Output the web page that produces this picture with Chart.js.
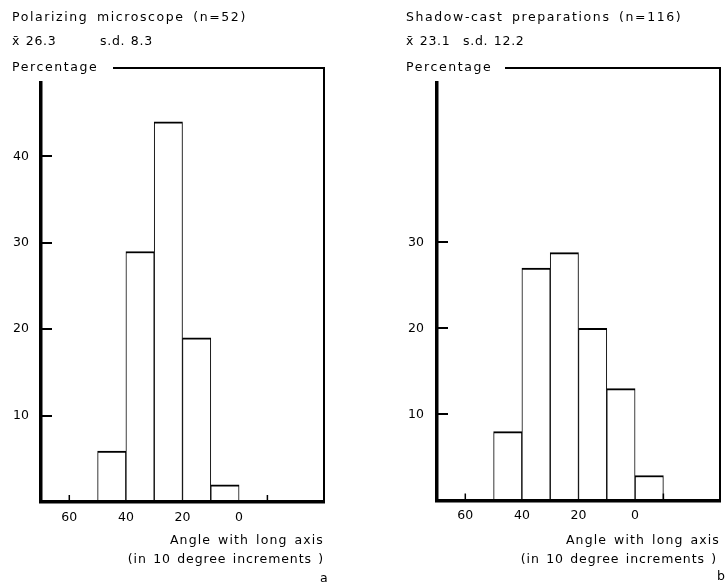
<!DOCTYPE html>
<html>
<head>
<meta charset="utf-8">
<script src="https://cdn.jsdelivr.net/npm/chart.js@4.4.1/dist/chart.umd.min.js"></script>
<style>
  html, body { margin:0; padding:0; background:#fff; }
  #wrap { position:relative; width:726px; height:584px; overflow:hidden; }
  canvas { position:absolute; top:0; }
  .t { position:absolute; font-family:'DejaVu Sans', sans-serif; font-size:12.5px; line-height:14px;
       letter-spacing:1.6px; word-spacing:3px; white-space:pre; color:#000; }
  .r { text-align:right; }
  .s { letter-spacing:0.7px; word-spacing:1px; }
  .ax1 { letter-spacing:1.1px; word-spacing:2px; }
  .ax2 { letter-spacing:0.9px; word-spacing:1.5px; }
</style>
</head>
<body>
<div id="wrap">
  <canvas id="ca" width="363" height="584" style="left:0"></canvas>
  <canvas id="cb" width="363" height="584" style="left:363px"></canvas>

  <div class="t" style="left:12px; top:10px">Polarizing microscope (n=52)</div>
  <div class="t s" style="left:12px; top:34px">x̄ 26.3</div>
  <div class="t s" style="left:100px; top:34px">s.d. 8.3</div>
  <div class="t" style="left:12px; top:60px">Percentage</div>
  <div class="t r ax1" style="right:402px; top:533px">Angle with long axis</div>
  <div class="t r ax2" style="right:402px; top:552px">(in 10 degree increments )</div>
  <div class="t" style="left:320px; top:571px">a</div>

  <div class="t" style="left:406px; top:10px">Shadow-cast preparations (n=116)</div>
  <div class="t s" style="left:406px; top:34px">x̄ 23.1</div>
  <div class="t s" style="left:463px; top:34px">s.d. 12.2</div>
  <div class="t" style="left:406px; top:60px">Percentage</div>
  <div class="t r ax1" style="right:6px; top:533px">Angle with long axis</div>
  <div class="t r ax2" style="right:9px; top:552px">(in 10 degree increments )</div>
  <div class="t" style="left:717px; top:569px">b</div>
</div>
<script>
// ---- data ----
const binCentersA = [45, 35, 25, 15, 5];
const percentA    = [5.9, 29, 44, 19, 2];
const binCentersB = [45, 35, 25, 15, 5, -5];
const percentB    = [8, 27, 28.8, 20, 13, 2.9];
const xTickLabels = [60, 40, 20, 0];
const xSmallTicks = [60, -10];
const yTicksA = [10, 20, 30, 40];
const yTicksB = [10, 20, 30];

const FONT = { family: "'DejaVu Sans', sans-serif", size: 12.5 };

const framePlugin = {
  id: 'frame',
  afterDraw(chart, args, opts) {
    const { ctx, chartArea: a, scales: { x, y } } = chart;
    ctx.save();
    ctx.strokeStyle = '#000';
    ctx.lineCap = 'butt';
    // top and right frame lines
    ctx.lineWidth = 2;
    ctx.beginPath();
    ctx.moveTo(opts.topStart, a.top - 15);
    ctx.lineTo(a.right, a.top - 15);
    ctx.moveTo(a.right, a.top - 16);
    ctx.lineTo(a.right, a.bottom);
    ctx.stroke();
    // inner y tick marks
    ctx.lineWidth = 2;
    ctx.beginPath();
    opts.yTicks.forEach(v => {
      const py = Math.round(y.getPixelForValue(v));
      ctx.moveTo(a.left, py);
      ctx.lineTo(a.left + 11, py);
    });
    ctx.stroke();
    // small x ticks pointing up
    ctx.lineWidth = 1.5;
    ctx.beginPath();
    xSmallTicks.forEach(v => {
      const px = x.getPixelForValue(v);
      ctx.moveTo(px, a.bottom);
      ctx.lineTo(px, a.bottom - 7);
    });
    ctx.stroke();
    ctx.restore();
  }
};

function makeChart(id, centers, values, yTicks, opt) {
  return new Chart(document.getElementById(id), {
    type: 'bar',
    data: {
      datasets: [{
        data: centers.map((c, i) => ({ x: c, y: values[i] })),
        backgroundColor: '#fff',
        borderColor: '#000',
        borderWidth: { top: 2, left: 1, right: 1, bottom: 0 },
        borderSkipped: 'bottom',
        barPercentage: 1,
        categoryPercentage: 1
      }]
    },
    options: {
      responsive: false,
      animation: false,
      events: [],
      layout: { padding: { top: 83, right: opt.padRight, left: 0, bottom: 0 } },
      plugins: {
        legend: { display: false },
        tooltip: { enabled: false },
        frame: { topStart: opt.topStart, yTicks: yTicks }
      },
      scales: {
        x: {
          type: 'linear',
          reverse: true,
          min: -30, max: 70,
          offset: false,
          grid: { display: false, drawTicks: false },
          border: { display: true, width: 3.5, color: '#000', z: 1 },
          afterBuildTicks: s => { s.ticks = xTickLabels.map(v => ({ value: v })); },
          afterFit: s => { s.height = opt.xHeight; },
          ticks: { color: '#000', font: FONT, padding: 8, maxRotation: 0, autoSkip: false }
        },
        y: {
          type: 'linear',
          min: 0, max: 48.5,
          grid: { display: false, drawTicks: false },
          border: { display: true, width: 3.5, color: '#000', z: 1 },
          afterBuildTicks: s => { s.ticks = yTicks.map(v => ({ value: v })); },
          afterFit: s => { s.width = opt.yWidth; },
          ticks: { color: '#000', font: FONT, padding: opt.yPad }
        }
      }
    },
    plugins: [framePlugin]
  });
}

makeChart('ca', binCentersA, percentA, yTicksA, { padRight: 39, yWidth: 41, xHeight: 82, yPad: 12, topStart: 113 });
makeChart('cb', binCentersB, percentB, yTicksB, { padRight: 6, yWidth: 74, xHeight: 83.5, yPad: 13, topStart: 142 });
</script>
</body>
</html>
